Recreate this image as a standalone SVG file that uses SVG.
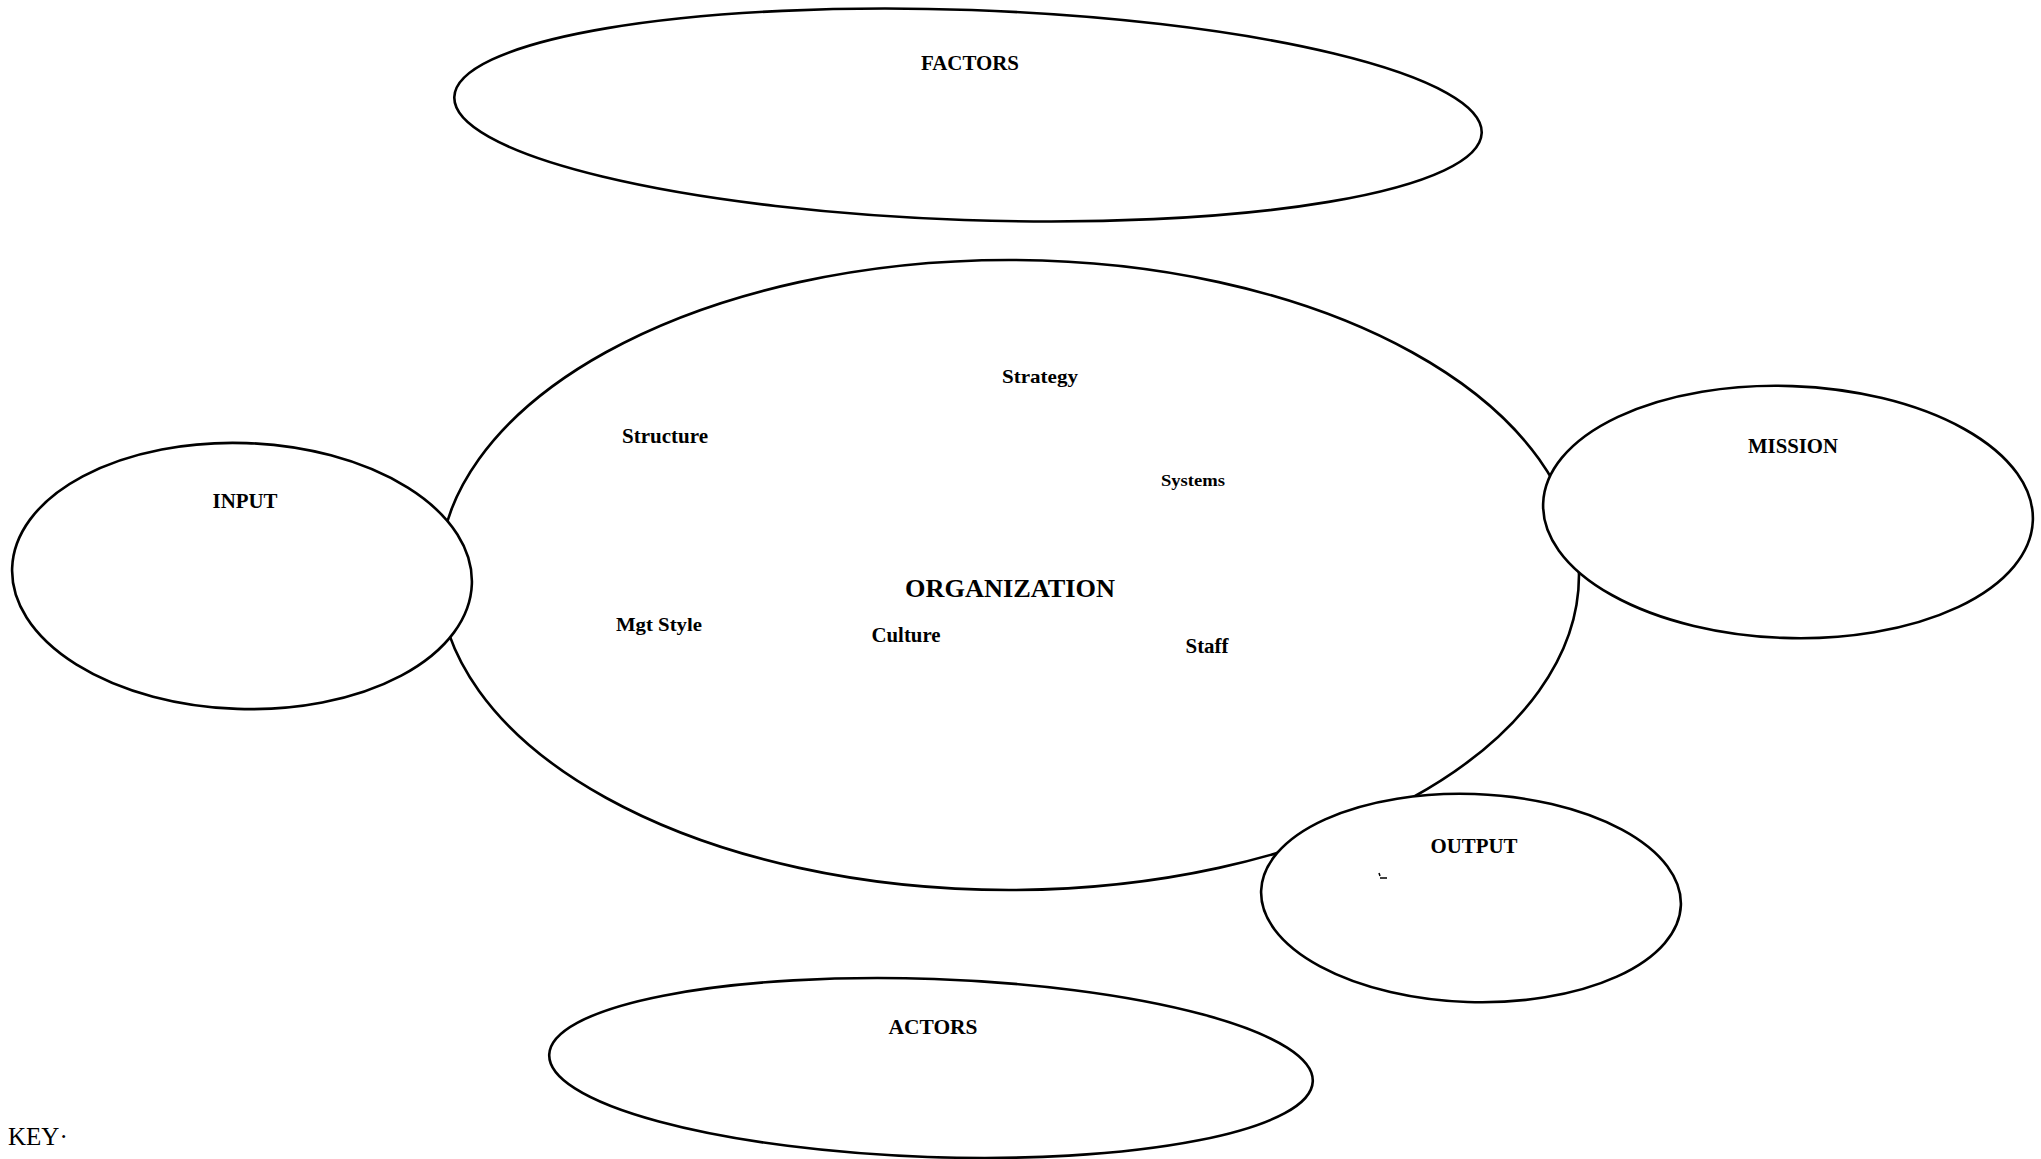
<svg xmlns="http://www.w3.org/2000/svg" width="2041" height="1159" viewBox="0 0 2041 1159">
  <style>
    .shape { fill: #fff; stroke: #000; stroke-width: 2.6; }
    .lbl { font-family: "Liberation Serif", "Times New Roman", serif; font-weight: bold; fill: #000; text-anchor: middle; }
    .big { font-size: 21px; }
    .item { font-size: 19px; }
  </style>
  <rect width="2041" height="1159" fill="#fff"/>

  <g id="factors">
    <ellipse class="shape" cx="968" cy="115" rx="514" ry="105" transform="rotate(2 968 115)"/>
    <text class="lbl big" x="970" y="70" textLength="98" lengthAdjust="spacingAndGlyphs">FACTORS</text>
  </g>

  <g id="organization">
    <ellipse class="shape" cx="1009" cy="575" rx="570" ry="315"/>
    <text class="lbl" x="1010" y="597" font-size="26" textLength="210" lengthAdjust="spacingAndGlyphs">ORGANIZATION</text>
    <text class="lbl item" x="1040" y="383" textLength="76" lengthAdjust="spacingAndGlyphs">Strategy</text>
    <text class="lbl" x="665" y="443" font-size="21" textLength="86" lengthAdjust="spacingAndGlyphs">Structure</text>
    <text class="lbl" x="1193" y="486" font-size="17" textLength="64" lengthAdjust="spacingAndGlyphs">Systems</text>
    <text class="lbl item" x="659" y="631" textLength="86" lengthAdjust="spacingAndGlyphs">Mgt Style</text>
    <text class="lbl" x="906" y="642" font-size="20" textLength="69" lengthAdjust="spacingAndGlyphs">Culture</text>
    <text class="lbl" x="1207" y="653" font-size="20" textLength="43" lengthAdjust="spacingAndGlyphs">Staff</text>
  </g>

  <g id="input">
    <ellipse class="shape" cx="242" cy="576" rx="230" ry="133" transform="rotate(2 242 576)"/>
    <text class="lbl big" x="245" y="508" textLength="65" lengthAdjust="spacingAndGlyphs">INPUT</text>
  </g>

  <g id="mission">
    <ellipse class="shape" cx="1788" cy="512" rx="245" ry="126" transform="rotate(2 1788 512)"/>
    <text class="lbl big" x="1793" y="453" textLength="90" lengthAdjust="spacingAndGlyphs">MISSION</text>
  </g>

  <g id="output">
    <ellipse class="shape" cx="1471" cy="898" rx="210" ry="104" transform="rotate(2 1471 898)"/>
    <text class="lbl big" x="1474" y="853" textLength="87" lengthAdjust="spacingAndGlyphs">OUTPUT</text>
    <path d="M1379 873 l1 3 M1380 878 h7" stroke="#000" stroke-width="1.5" fill="none"/>
  </g>

  <g id="actors">
    <ellipse class="shape" cx="931" cy="1068" rx="382" ry="89" transform="rotate(2 931 1068)"/>
    <text class="lbl big" x="933" y="1034" textLength="89" lengthAdjust="spacingAndGlyphs">ACTORS</text>
  </g>

  <g id="key">
    <text x="8" y="1145" font-family="Liberation Serif, serif" font-size="25" fill="#000">KEY·</text>
  </g>
</svg>
